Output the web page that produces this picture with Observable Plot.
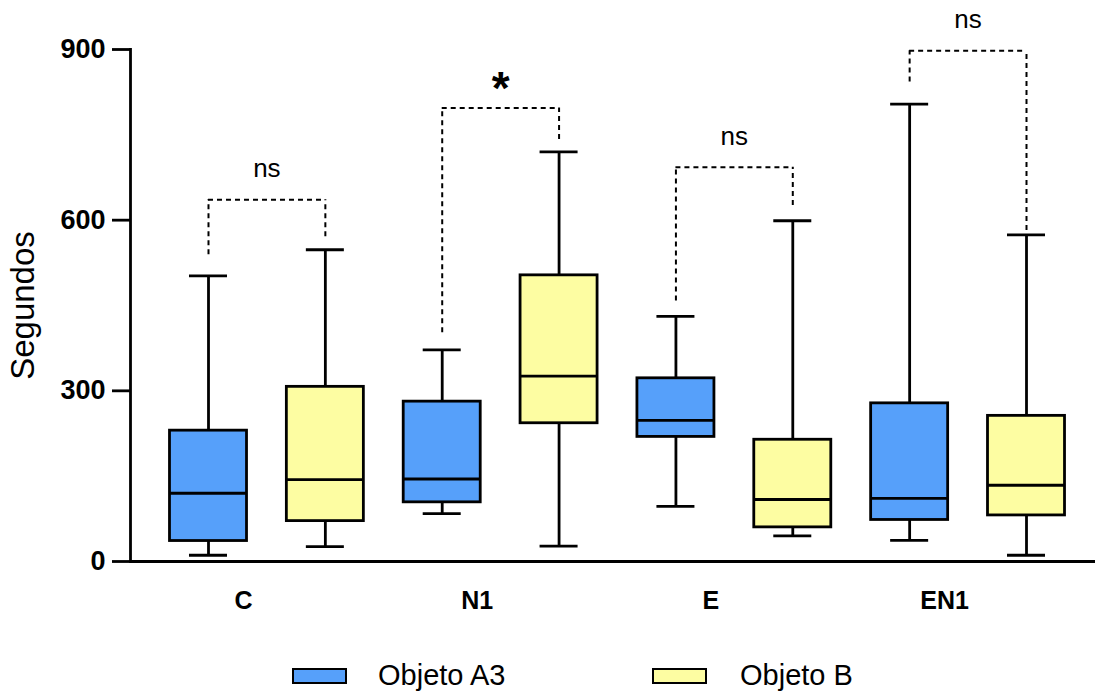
<!DOCTYPE html>
<html>
<head>
<meta charset="utf-8">
<script src="https://cdn.jsdelivr.net/npm/d3@7"></script>
<script src="https://cdn.jsdelivr.net/npm/@observablehq/plot@0.6"></script>
<style>
  body { margin: 0; background: #fff; font-family: "Liberation Sans", Arial, sans-serif; }
  #wrap { width: 1095px; height: 695px; position: relative; overflow: hidden; }
  #legend { position: relative; width: 1095px; height: 55px; }
  .sw { position: absolute; box-sizing: border-box; border: 2.5px solid #000; width: 55px; height: 16px; top: 28px; }
  .lt { position: absolute; font-size: 29px; line-height: 1; top: 21px; color: #000; }
</style>
</head>
<body>
<div id="wrap"></div>
<script>
const categories = ["C", "N1", "E", "EN1"];
const series = ["Objeto A3", "Objeto B"];
const colors = ["#56a0fa", "#fdfda2"];

// Box summaries (seconds)
const a3Min    = [11, 84, 97, 37];
const a3Q1     = [36, 104, 219, 73];
const a3Median = [120, 145, 248, 111];
const a3Q3     = [230, 281, 322, 278];
const a3Max    = [502, 372, 431, 804];

const bMin    = [26, 27, 45, 11];
const bQ1     = [71, 243, 60, 81];
const bMedian = [144, 326, 109, 134];
const bQ3     = [307, 503, 214, 256];
const bMax    = [548, 720, 599, 574];

// Significance brackets
const bracketTop      = [636, 797, 693, 898];
const bracketLeftEnd  = [539, 402, 458, 843];
const bracketRightEnd = [571, 742, 626, 582];
const sigLabels       = ["ns", "*", "ns", "ns"];

const yTicks = [0, 300, 600, 900];

const boxes = categories.flatMap((c, i) => [
  {key: c + "|A3", category: c, series: series[0], min: a3Min[i], q1: a3Q1[i], median: a3Median[i], q3: a3Q3[i], max: a3Max[i]},
  {key: c + "|B",  category: c, series: series[1], min: bMin[i],  q1: bQ1[i],  median: bMedian[i],  q3: bQ3[i],  max: bMax[i]}
]);
const keys = boxes.map(d => d.key);
const brackets = categories.map((c, i) => ({
  a: c + "|A3", b: c + "|B", top: bracketTop[i], left: bracketLeftEnd[i], right: bracketRightEnd[i], label: sigLabels[i]
}));

const font = '"Liberation Sans", Arial, sans-serif';
const dash = {strokeDasharray: "5,4", strokeWidth: 2};
const lw = 2.8;

const chart = Plot.plot({
  width: 1095,
  height: 640,
  marginTop: 49,
  marginBottom: 79,
  marginLeft: 130,
  marginRight: 0,
  style: {fontFamily: font, color: "#000", background: "#fff"},
  x: {type: "band", domain: keys, range: [149.57, 1084.43], paddingInner: 0.341, paddingOuter: 0.1705, round: false},
  y: {domain: [0, 900]},
  color: {domain: series, range: colors},
  marks: [
    Plot.ruleX(boxes, {x: "key", y1: "min", y2: "q1", strokeWidth: lw}),
    Plot.ruleX(boxes, {x: "key", y1: "q3", y2: "max", strokeWidth: lw}),
    Plot.tickY(boxes, {x: "key", y: "min", insetLeft: 19.5, insetRight: 19.5, strokeWidth: lw}),
    Plot.tickY(boxes, {x: "key", y: "max", insetLeft: 19.5, insetRight: 19.5, strokeWidth: lw}),
    Plot.barY(boxes, {x: "key", y1: "q1", y2: "q3", fill: "series", stroke: "#000", strokeWidth: lw}),
    Plot.tickY(boxes, {x: "key", y: "median", strokeWidth: lw}),
    Plot.ruleY(brackets, {x1: "a", x2: "b", y: "top", insetLeft: 38.5, insetRight: 38.5, ...dash}),
    Plot.ruleX(brackets, {x: "a", y1: "left", y2: "top", ...dash}),
    Plot.ruleX(brackets, {x: "b", y1: "right", y2: "top", ...dash}),
    Plot.text(brackets.filter(d => d.label === "ns"), {x: "a", y: "top", text: "label", dx: 58.4, dy: -31, fontSize: 26}),
    Plot.text(brackets.filter(d => d.label !== "ns"), {x: "a", y: "top", text: "label", dx: 58.4, dy: -19, fontSize: 46, fontWeight: "bold"}),
    Plot.ruleY([0], {strokeWidth: lw}),
    Plot.frame({anchor: "left", strokeWidth: lw}),
    Plot.axisY({ticks: yTicks, tickSize: 18, tickPadding: 7, fontSize: 27, fontWeight: "bold", strokeWidth: lw, label: null}),
    Plot.axisX(categories.map(c => c + "|A3"), {tickFormat: k => k.split("|")[0], tickSize: 0, tickPadding: 30, dx: 35, fontSize: 25, fontWeight: "bold", label: null}),
    Plot.text(["Segundos"], {frameAnchor: "left", textAnchor: "middle", dx: -107, rotate: -90, fontSize: 33})
  ]
});

const wrap = document.getElementById("wrap");
wrap.appendChild(chart);

const legend = document.createElement("div");
legend.id = "legend";
const legendX = [292, 652];
const legendTextX = [378, 740];
series.forEach((s, i) => {
  const sw = document.createElement("div");
  sw.className = "sw";
  sw.style.left = legendX[i] + "px";
  sw.style.background = colors[i];
  legend.appendChild(sw);
  const t = document.createElement("span");
  t.className = "lt";
  t.style.left = legendTextX[i] + "px";
  t.textContent = s;
  legend.appendChild(t);
});
wrap.appendChild(legend);
</script>
</body>
</html>
